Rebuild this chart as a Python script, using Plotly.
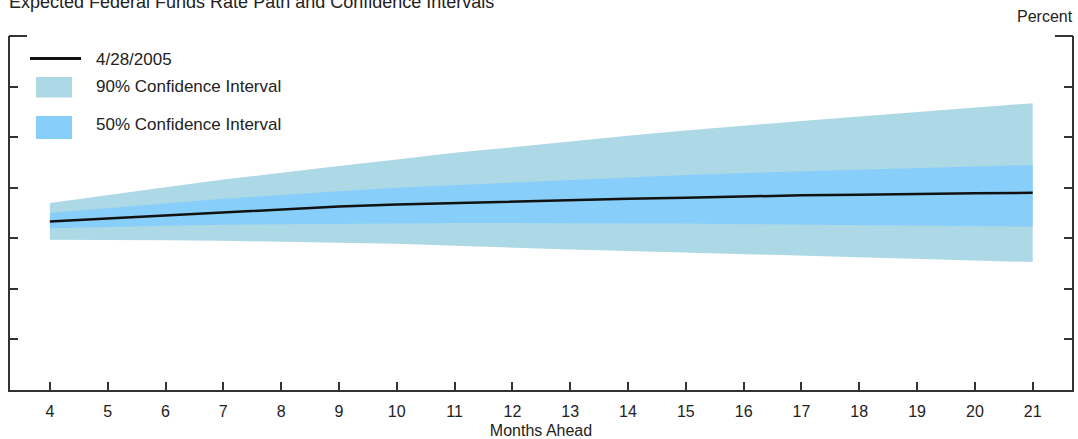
import plotly.graph_objects as go

months = list(range(4, 22))
path = [3.33, 3.39, 3.46, 3.52, 3.58, 3.63, 3.67, 3.70, 3.72, 3.75, 3.78, 3.80, 3.83, 3.85, 3.86, 3.88, 3.89, 3.90]
ci90_upper = [3.70, 3.86, 4.01, 4.16, 4.30, 4.43, 4.56, 4.69, 4.80, 4.92, 5.03, 5.13, 5.23, 5.32, 5.41, 5.50, 5.59, 5.67]
ci90_lower = [2.97, 2.97, 2.96, 2.95, 2.93, 2.91, 2.89, 2.85, 2.81, 2.78, 2.75, 2.72, 2.68, 2.65, 2.62, 2.59, 2.56, 2.53]
ci50_upper = [3.50, 3.60, 3.69, 3.78, 3.86, 3.93, 4.00, 4.05, 4.10, 4.16, 4.21, 4.25, 4.29, 4.32, 4.36, 4.39, 4.42, 4.45]
ci50_lower = [3.20, 3.23, 3.25, 3.27, 3.28, 3.29, 3.30, 3.30, 3.30, 3.30, 3.29, 3.29, 3.28, 3.27, 3.26, 3.25, 3.24, 3.23]
x_ticks = list(range(4, 22))
y_ticks = list(range(0, 8))

C90 = "#ADD8E6"
C50 = "#87CEFA"
FONT = "Liberation Sans, Arial, sans-serif"
TXT = "#222222"
AX = "#333333"

fig = go.Figure()
fig.add_trace(go.Scatter(x=months, y=ci90_lower, mode="lines", line=dict(width=0, color=C90),
                         showlegend=False, hoverinfo="skip"))
fig.add_trace(go.Scatter(x=months, y=ci90_upper, mode="lines", line=dict(width=0, color=C90),
                         fill="tonexty", fillcolor=C90, showlegend=False, name="90% Confidence Interval"))
fig.add_trace(go.Scatter(x=months, y=ci50_lower, mode="lines", line=dict(width=0, color=C50),
                         showlegend=False, hoverinfo="skip"))
fig.add_trace(go.Scatter(x=months, y=ci50_upper, mode="lines", line=dict(width=0, color=C50),
                         fill="tonexty", fillcolor=C50, showlegend=False, name="50% Confidence Interval"))
fig.add_trace(go.Scatter(x=months, y=path, mode="lines", line=dict(width=2.5, color="#111111"),
                         showlegend=False, name="4/28/2005"))

W, H = 1078, 439
L, R, T, B = 10, 6, 36, 49
pw, ph = W - L - R, H - T - B


def px(xp):
    return (xp - L) / pw


def py(yp):
    return (H - B - yp) / ph


shapes = [
    # top stubs of frame
    dict(type="line", xref="paper", yref="paper", x0=px(9), x1=px(27), y0=py(36), y1=py(36),
         line=dict(color=AX, width=2)),
    dict(type="line", xref="paper", yref="paper", x0=px(1055), x1=px(1073), y0=py(36), y1=py(36),
         line=dict(color=AX, width=2)),
    # legend samples
    dict(type="line", xref="paper", yref="paper", x0=px(30), x1=px(81), y0=py(58.5), y1=py(58.5),
         line=dict(color="#111111", width=3)),
    dict(type="rect", xref="paper", yref="paper", x0=px(36), x1=px(72), y0=py(77), y1=py(97.5),
         line=dict(width=0), fillcolor=C90),
    dict(type="rect", xref="paper", yref="paper", x0=px(36), x1=px(72), y0=py(116), y1=py(139),
         line=dict(width=0), fillcolor=C50),
]

annotations = [
    dict(text="Expected Federal Funds Rate Path and Confidence Intervals", xref="paper", yref="paper",
         x=px(7), y=py(2), xanchor="left", yanchor="middle", showarrow=False,
         font=dict(family=FONT, size=18, color=TXT)),
    dict(text="Percent", xref="paper", yref="paper", x=px(1075), y=py(16), xanchor="right",
         yanchor="middle", showarrow=False, font=dict(family=FONT, size=16, color=TXT)),
    dict(text="4/28/2005", xref="paper", yref="paper", x=px(94), y=py(59), xanchor="left",
         yanchor="middle", showarrow=False, font=dict(family=FONT, size=17, color=TXT)),
    dict(text="90% Confidence Interval", xref="paper", yref="paper", x=px(94), y=py(86),
         xanchor="left", yanchor="middle", showarrow=False, font=dict(family=FONT, size=17, color=TXT)),
    dict(text="50% Confidence Interval", xref="paper", yref="paper", x=px(94), y=py(124),
         xanchor="left", yanchor="middle", showarrow=False, font=dict(family=FONT, size=17, color=TXT)),
]

fig.update_layout(
    width=W, height=H,
    margin=dict(l=L, r=R, t=T, b=B, autoexpand=False),
    paper_bgcolor="white", plot_bgcolor="white",
    showlegend=False,
    shapes=shapes,
    annotations=annotations,
    xaxis=dict(range=[3.31, 21.68], tickvals=x_ticks, ticktext=[str(v) for v in x_ticks],
               ticks="inside", ticklen=8, tickwidth=2, tickcolor=AX,
               showline=True, linecolor=AX, linewidth=2, mirror=False,
               showgrid=False, zeroline=False, ticklabelstandoff=6, automargin=False,
               tickfont=dict(family=FONT, size=16, color=TXT),
               title=dict(text="Months Ahead", font=dict(family=FONT, size=16, color=TXT), standoff=8)),
    yaxis=dict(range=[0, 7], tickvals=y_ticks, showticklabels=False, automargin=False,
               ticks="inside", ticklen=8, tickwidth=2, tickcolor=AX,
               showline=True, linecolor=AX, linewidth=2, mirror="ticks",
               showgrid=False, zeroline=False),
)

fig.write_html("out.html", config={"displayModeBar": False},
               post_script="document.body.style.margin='0';document.body.style.padding='0';")
